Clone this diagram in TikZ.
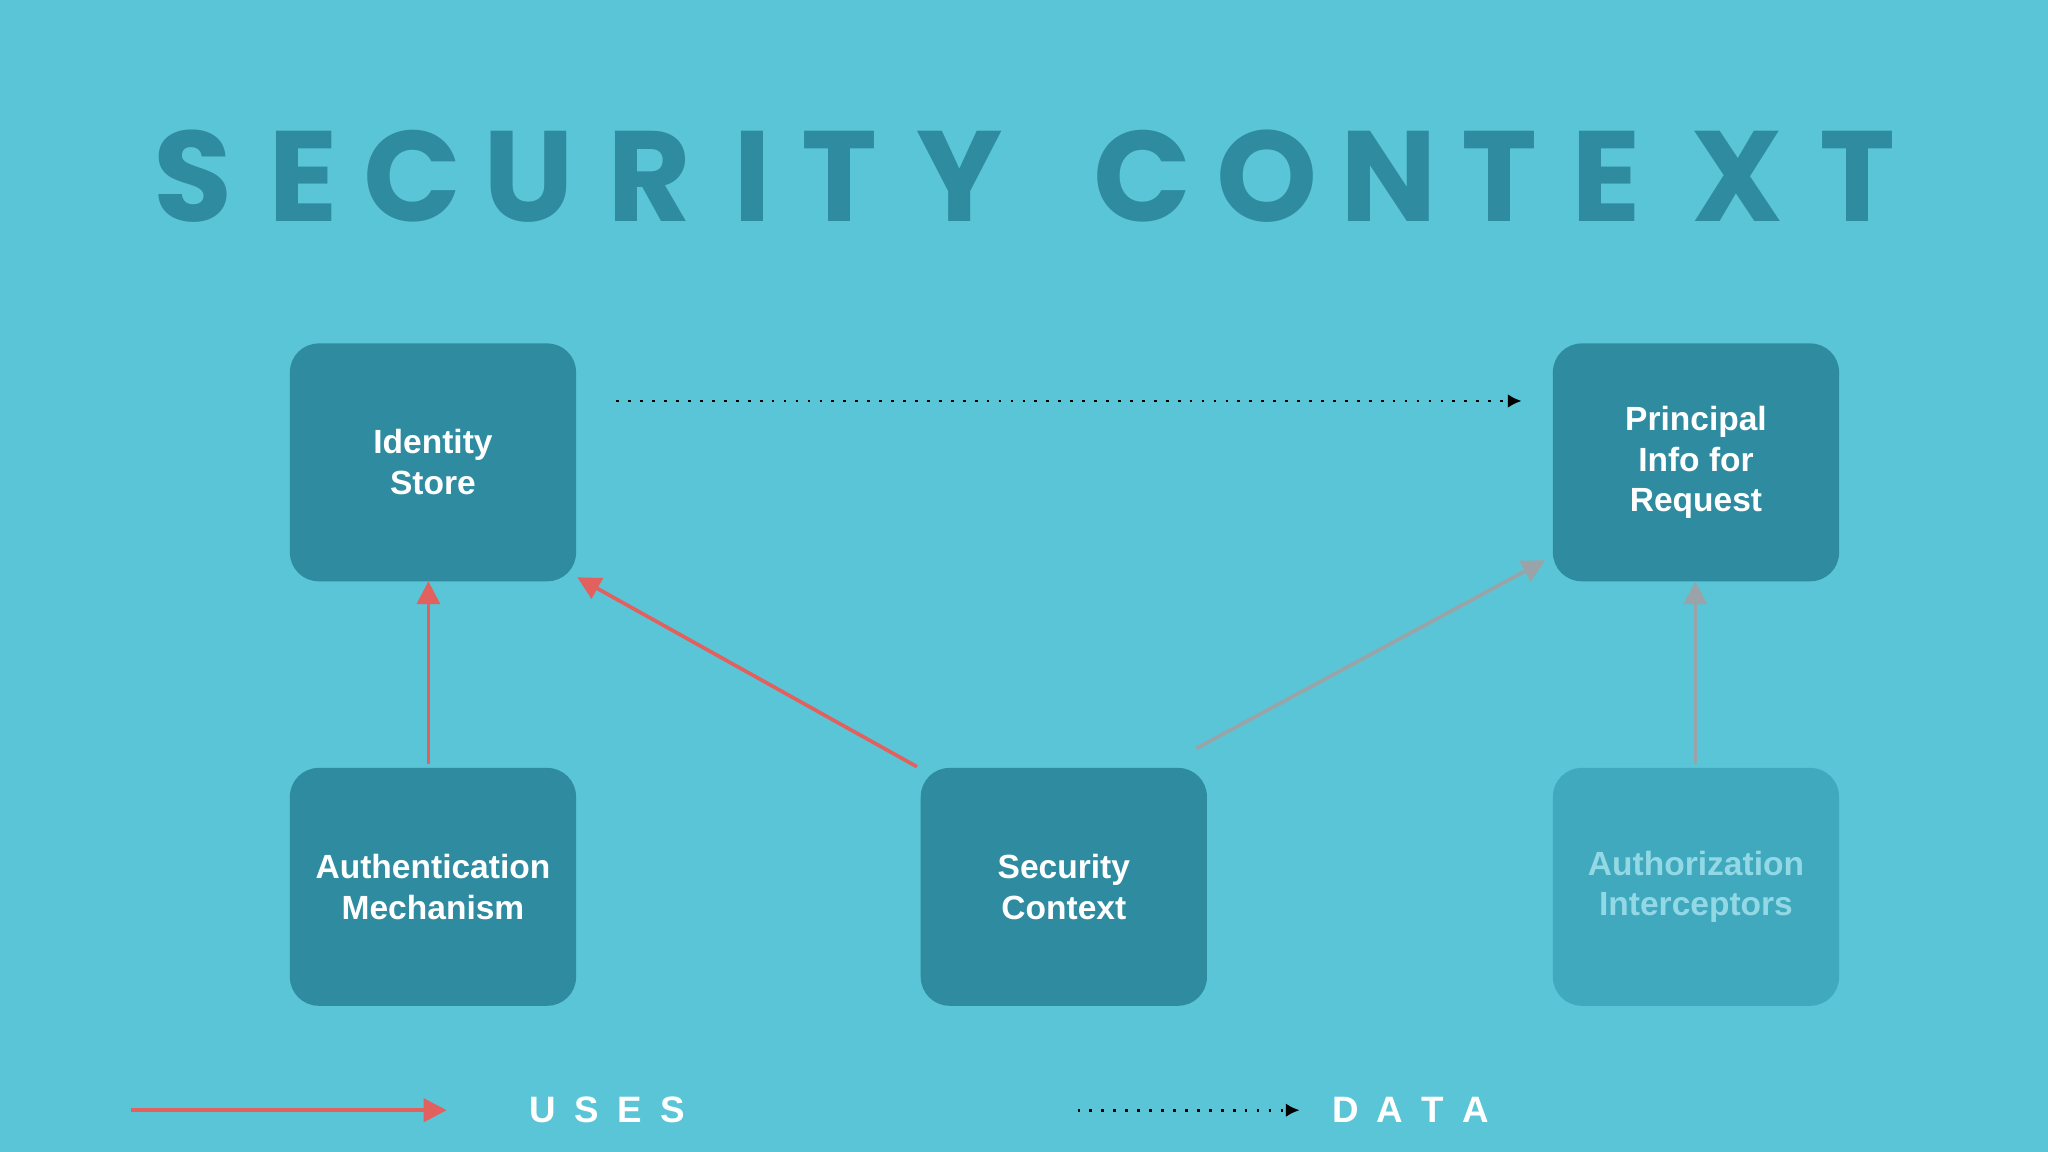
\documentclass[tikz,border=0pt]{standalone}
\usepackage{fontspec}
\setmainfont{Liberation Sans}
\newfontfamily\titlefont{Poppins Bold}
\usetikzlibrary{arrows.meta}
\definecolor{bg}{HTML}{59C5D6}
\definecolor{boxc}{HTML}{2E8BA0}
\definecolor{fadebox}{HTML}{40A9BE}
\definecolor{fadetxt}{HTML}{93D8E5}
\definecolor{redc}{HTML}{E2605E}
\definecolor{greyc}{HTML}{9AA4A8}
\tikzset{
  box/.style={draw=none,fill=boxc,rounded corners=0.22cm,minimum width=2.19cm,minimum height=1.82cm,text=white,font=\fontsize{7.3}{8.9}\selectfont\bfseries,align=center},
  uses/.style={draw=redc,line width=0.8pt,-{Triangle[length=5pt,width=5pt]}},
  gray/.style={draw=greyc,line width=0.8pt,-{Triangle[length=5pt,width=5pt]}},
  dataline/.style={draw=black,line width=0.6pt,dotted,-{Latex[length=3pt,width=3pt]}},
  legend/.style={text=white,font=\fontsize{8}{10}\selectfont\bfseries}
}
\begin{document}
\begin{tikzpicture}[x=0.01cm,y=-0.01cm]
\fill[bg] (0,0) rectangle (1568,882);
\useasboundingbox (0,0) rectangle (1568,882);
\foreach \x/\l in {148/S,232/E,316/C,405/U,497/R,576/I,643/T,735/Y,875/C,970/O,1063/N,1148/T,1230/E,1330/X,1422/T}
  \node[text=boxc,font=\titlefont\fontsize{28}{30}\selectfont] at (\x,135) {\l};
\node[box] (id) at (331.5,354) {Identity\\Store};
\node[box] (pr) at (1298.5,354) {Principal\\Info for\\Request};
\node[box] (au) at (331.5,679) {Authentication\\Mechanism};
\node[box] (sc) at (814.5,679) {Security\\Context};
\node[box,fill=fadebox,text=fadetxt] (az) at (1298.5,679) {Authorization\\Interceptors};
\coordinate (a1) at (328,585); \coordinate (a2) at (328,445);
\coordinate (b1) at (702,587); \coordinate (b2) at (442,442);
\coordinate (c1) at (916,573); \coordinate (c2) at (1183,429);
\coordinate (d1) at (1298,585); \coordinate (d2) at (1298,445);
\coordinate (e1) at (472,307); \coordinate (e2) at (1165,307);
\draw[uses] (a1) -- (a2);
\draw[uses] (b1) -- (b2);
\draw[gray] (c1) -- (c2);
\draw[gray] (d1) -- (d2);
\draw[dataline] (e1) -- (e2);
\coordinate (l1) at (100,850); \coordinate (l2) at (342,850);
\coordinate (m1) at (825,850); \coordinate (m2) at (995,850);
\draw[uses] (l1) -- (l2);
\draw[dataline] (m1) -- (m2);
\node[legend] (uselbl) at (465,850) {U\hspace{0.5em}S\hspace{0.5em}E\hspace{0.5em}S};
\node[legend] (datalbl) at (1080,850) {D\hspace{0.5em}A\hspace{0.5em}T\hspace{0.5em}A};
\end{tikzpicture}
\end{document}
